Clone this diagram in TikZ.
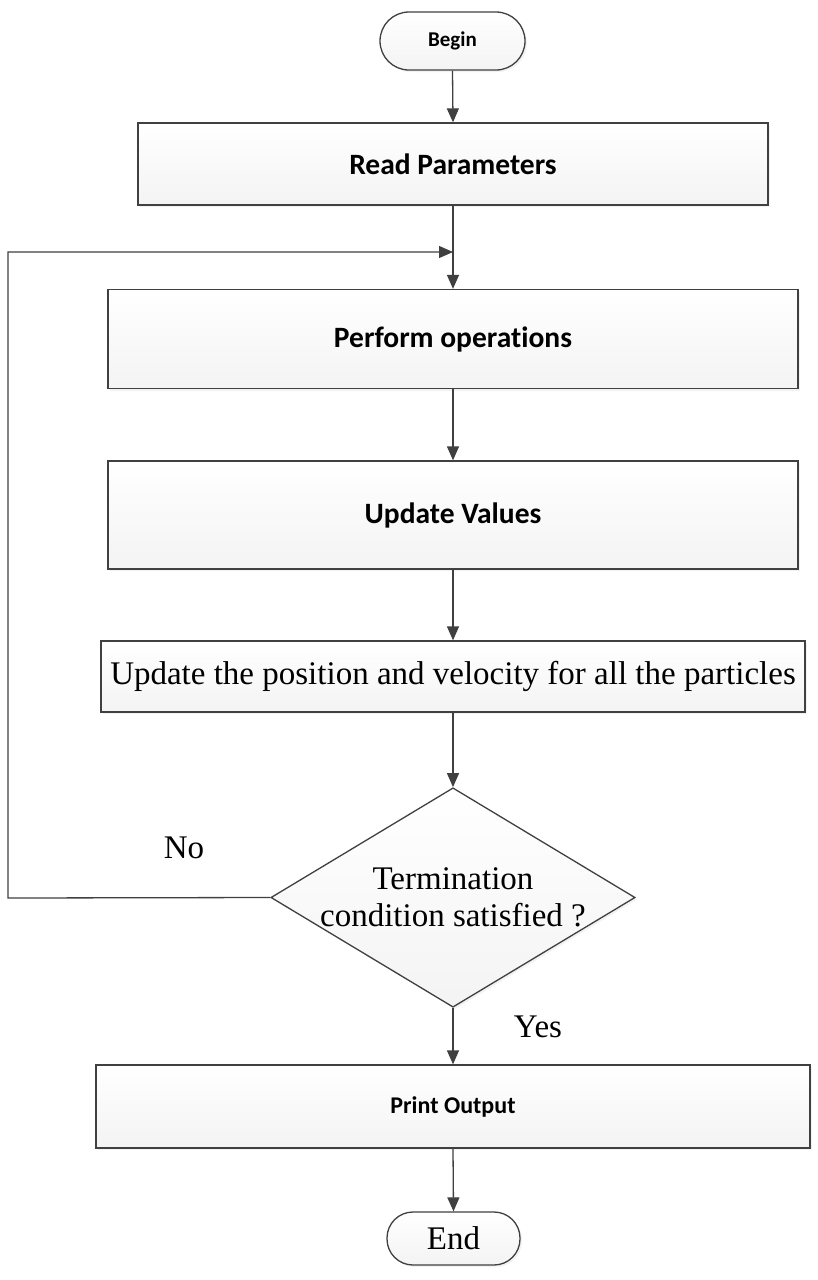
\documentclass[tikz,border=0pt]{standalone}
\usepackage{fontspec}
\setmainfont{Liberation Serif}
\newfontfamily\calibri[Ligatures=NoCommon]{Carlito}
\usetikzlibrary{arrows.meta,shapes.geometric,shadows}
\definecolor{edge}{HTML}{404040}
\begin{document}
\begin{tikzpicture}[x=1pt,y=-1pt,
  base/.style={draw=edge, line width=1.3pt, top color=white, bottom color=gray!9,
    inner sep=0pt, align=center,
    drop shadow={opacity=0.1, shadow xshift=2pt, shadow yshift=-2pt}},
  boxnode/.style={base, rectangle},
  termnode/.style={base, rectangle, rounded corners=26pt},
  decnode/.style={base, diamond, aspect=1.66},
  conn/.style={draw=edge, line width=1.3pt, -{Triangle[length=14pt,width=12pt]}},
  lbl/.style={font=\fontsize{33}{38}\selectfont}
]
\useasboundingbox (0,0) rectangle (817,1280);
\fill[white] (0,0) rectangle (817,1280);

\node[termnode, minimum width=145pt, minimum height=58pt, rounded corners=29pt,
  font=\calibri\bfseries\fontsize{21}{25}\selectfont] (begin) at (452.5,41) {Begin};
\node[boxnode, minimum width=630pt, minimum height=82pt,
  font=\calibri\bfseries\fontsize{29.5}{34}\selectfont] (read) at (453,164) {Read Parameters};
\node[boxnode, minimum width=690pt, minimum height=99pt,
  font=\calibri\bfseries\fontsize{29.5}{34}\selectfont] (perf) at (453,339) {Perform operations};
\node[boxnode, minimum width=690pt, minimum height=108pt,
  font=\calibri\bfseries\fontsize{29.5}{34}\selectfont] (upd) at (453,515) {Update Values};
\node[boxnode, minimum width=704pt, minimum height=71pt,
  font=\fontsize{33}{38}\selectfont] (pos) at (453,676.5) {Update the position and velocity for all the particles};
\node[decnode, minimum width=353pt, minimum height=212pt,
  font=\fontsize{33}{37}\selectfont] (dec) at (453,897.5) {Termination\\condition satisfied ?};
\node[boxnode, minimum width=714pt, minimum height=83pt,
  font=\calibri\bfseries\fontsize{24}{28}\selectfont] (print) at (453,1106.5) {Print Output};
\node[termnode, minimum width=133pt, minimum height=53pt,
  font=\fontsize{33}{38}\selectfont] (end) at (453.5,1238.5) {End};

\node[lbl] (no) at (184,848) {No};
\node[lbl] (yes) at (538,1027) {Yes};

\coordinate (fb) at (453,252);
\coordinate (fbl) at (8,898);

\draw[conn] (begin.south) -- (read.north);
\draw[conn] (read.south) -- (perf.north);
\draw[conn] (perf.south) -- (upd.north);
\draw[conn] (upd.south) -- (pos.north);
\draw[conn] (pos.south) -- (dec.north);
\draw[conn] (dec.south) -- (print.north);
\draw[conn] (print.south) -- (end.north);
\draw[conn] (dec.west) -- (fbl) |- (fb);
\end{tikzpicture}
\end{document}
